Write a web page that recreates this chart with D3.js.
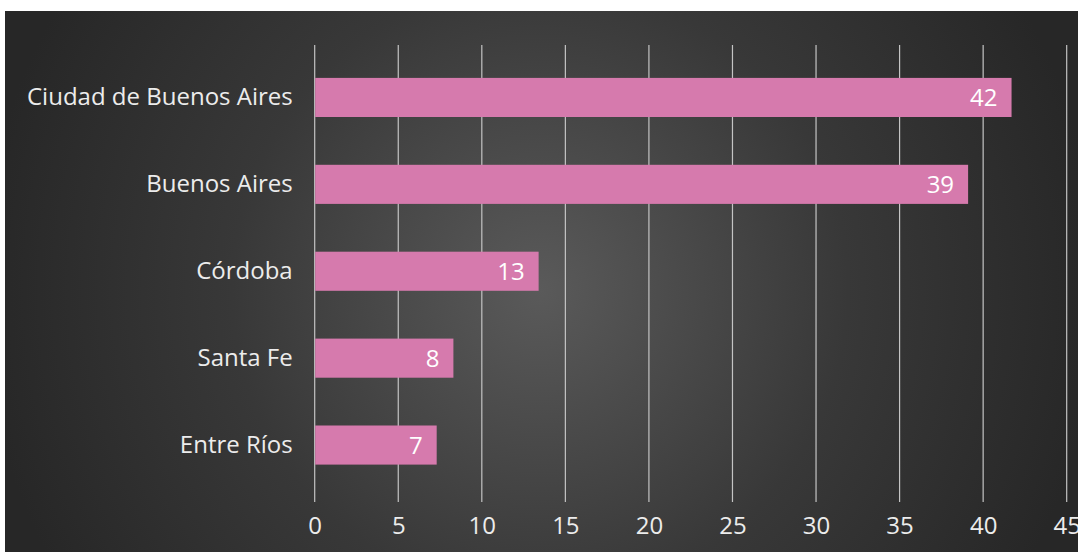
<!DOCTYPE html>
<html><head><meta charset="utf-8">
<script src="https://cdn.jsdelivr.net/npm/d3@7"></script>
<style>html,body{margin:0;padding:0;background:#fff;overflow:hidden}</style>
</head><body>
<svg id="chart" width="1078" height="552"></svg>
<script>
const categories = ["Ciudad de Buenos Aires", "Buenos Aires", "Córdoba", "Santa Fe", "Entre Ríos"];
const values = [41.7, 39.1, 13.4, 8.3, 7.3];
const tickValues = [0, 5, 10, 15, 20, 25, 30, 35, 40, 45];

const svg = d3.select("#chart");
const W = 1078, H = 552;
const defs = svg.append("defs");
const grad = defs.append("radialGradient").attr("id", "bg")
  .attr("gradientUnits", "userSpaceOnUse")
  .attr("cx", 540).attr("cy", 290).attr("r", 560);
grad.append("stop").attr("offset", "0%").attr("stop-color", "#5a5a5a");
grad.append("stop").attr("offset", "55%").attr("stop-color", "#383838");
grad.append("stop").attr("offset", "100%").attr("stop-color", "#272727");

svg.append("rect").attr("x", 5).attr("y", 11).attr("width", W - 5).attr("height", H - 11).attr("fill", "url(#bg)");

const font = "'Open Sans', sans-serif";
const x = d3.scaleLinear().domain([0, 45]).range([314.7, 1066.7]);
const y = d3.scaleBand().domain(categories).range([54, 488.5]).paddingInner(0.55).paddingOuter(0.275);

// gridlines
svg.append("g").selectAll("line").data(tickValues).join("line")
  .attr("x1", d => x(d)).attr("x2", d => x(d))
  .attr("y1", 45).attr("y2", 502)
  .attr("stroke", "#c4c4c4").attr("stroke-width", 1.2);

// bars
svg.append("g").selectAll("rect").data(values).join("rect")
  .attr("x", x(0) + 0.5)
  .attr("y", (d, i) => y(categories[i]))
  .attr("width", d => x(d) - x(0) - 0.5)
  .attr("height", y.bandwidth())
  .attr("fill", "#d67aad");

// value labels
svg.append("g").selectAll("text").data(values).join("text")
  .attr("x", d => x(d) - 14)
  .attr("y", (d, i) => y(categories[i]) + y.bandwidth() / 2)
  .attr("dy", "0.36em")
  .attr("text-anchor", "end")
  .attr("fill", "#ffffff")
  .attr("font-family", font).attr("font-size", 24)
  .text(d => d3.format(".0f")(d));

// category labels (y axis)
const yAxis = d3.axisLeft(y).tickSize(0).tickPadding(22);
const gy = svg.append("g").attr("transform", `translate(${x(0)},0)`).call(yAxis);
gy.select(".domain").remove();
gy.selectAll("text").attr("fill", "#ececec").attr("font-family", font).attr("font-size", 24);

// x axis labels
const xAxis = d3.axisBottom(x).tickValues(tickValues).tickSize(0).tickPadding(15);
const gx = svg.append("g").attr("transform", `translate(0,502)`).call(xAxis);
gx.select(".domain").remove();
gx.selectAll("text").attr("fill", "#ececec").attr("font-family", font).attr("font-size", 24);
</script>
</body></html>
